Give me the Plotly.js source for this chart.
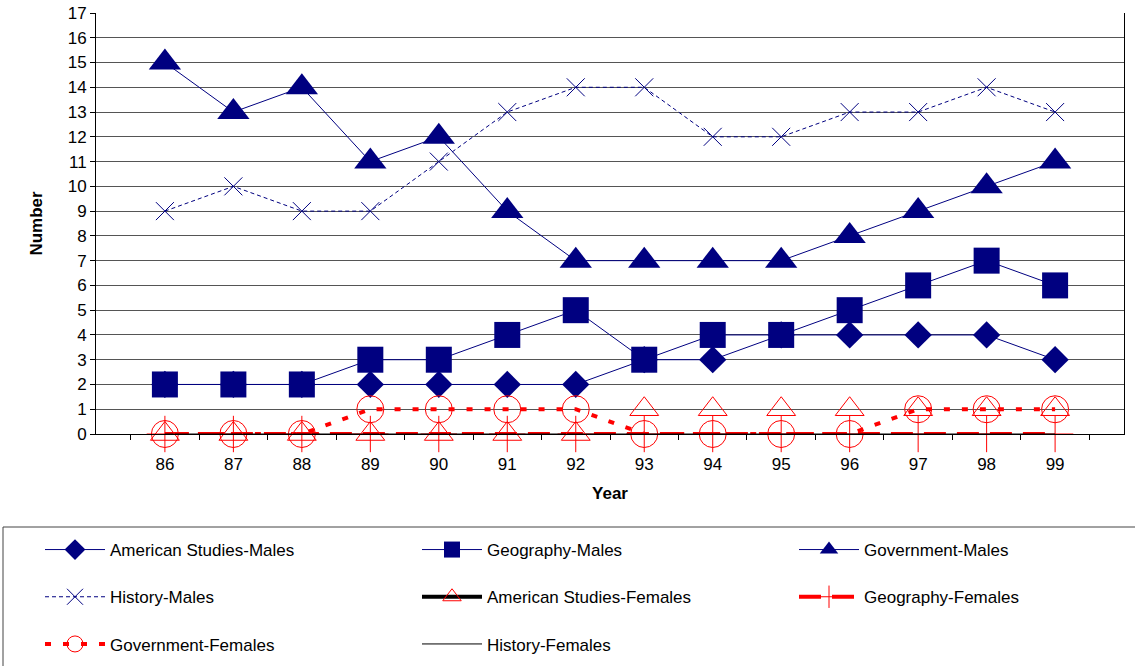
<!DOCTYPE html>
<html>
<head>
<meta charset="utf-8">
<script src="https://cdn.plot.ly/plotly-3.0.1.min.js"></script>
<style>html,body{margin:0;padding:0;background:#fff}</style>
</head>
<body>
<div id="chart" style="width:1135px;height:666px"></div>
<script>
var years = ['86','87','88','89','90','91','92','93','94','95','96','97','98','99'];
var amStudiesMales   = [2,2,2,2,2,2,2,3,3,4,4,4,4,3];
var geographyMales   = [2,2,2,3,3,4,5,3,4,4,5,6,7,6];
var governmentMales  = [15,13,14,11,12,9,7,7,7,7,8,9,10,11];
var historyMales     = [9,10,9,9,11,13,14,14,12,12,13,13,14,13];
var amStudiesFemales = [0,0,0,0,0,0,0,1,1,1,1,1,1,1];
var geographyFemales = [0,0,0,0,0,0,0,0,0,0,0,0,0,0];
var governmentFemales= [0,0,0,1,1,1,1,0,0,0,0,1,1,1];
var historyFemales   = [0,0,0,0,0,0,0,0,0,0,0,0,0,0];

var NAVY = '#000080', RED = '#ff0000';
function lab(s){ return s + '<br> '; }

var traces = [
  {name: lab('American Studies-Males'), legend: 'legend', x: years, y: amStudiesMales, mode: 'lines+markers',
   line: {color: NAVY, width: 1}, marker: {symbol: 'diamond', size: 21, color: NAVY}},
  {name: lab('Geography-Males'), legend: 'legend2', x: years, y: geographyMales, mode: 'lines+markers',
   line: {color: NAVY, width: 1}, marker: {symbol: 'square', size: 26, color: NAVY}},
  {name: lab('Government-Males'), legend: 'legend3', x: years, y: governmentMales, mode: 'lines+markers',
   line: {color: NAVY, width: 1}, marker: {symbol: 'triangle-up', size: 28, color: NAVY}},
  {name: lab('History-Males'), legend: 'legend', x: years, y: historyMales, mode: 'lines+markers',
   line: {color: NAVY, width: 1, dash: '4px,3px'}, marker: {symbol: 'x-thin-open', size: 18, color: NAVY, line: {color: NAVY, width: 1}}},
  // legend entry for American Studies-Females (its line is not visible in the plot)
  {name: lab('American Studies-Females'), legend: 'legend2', x: [null], y: [null], mode: 'lines+markers',
   line: {color: '#000000', width: 4}, marker: {symbol: 'triangle-up-open', size: 24, color: RED, line: {color: RED, width: 1}}},
  {name: lab('Geography-Females'), legend: 'legend3', x: years, y: geographyFemales, mode: 'lines+markers',
   line: {color: RED, width: 4, dash: '22px,11px'}, marker: {symbol: 'cross-thin-open', size: 26, color: RED, line: {color: RED, width: 1}}},
  {name: lab('Government-Females'), legend: 'legend', x: years, y: governmentFemales, mode: 'lines+markers',
   line: {color: RED, width: 4, dash: '6px,12px'}, marker: {symbol: 'circle-open', size: 27, color: RED, line: {color: RED, width: 1}}},
  {name: lab('History-Females'), legend: 'legend2', x: years, y: historyFemales, mode: 'lines',
   line: {color: '#000000', width: 1}},
  {name: 'American Studies-Females', legend: 'legend2', x: years, y: amStudiesFemales, mode: 'markers', showlegend: false,
   marker: {symbol: 'triangle-up-open', size: 25, color: RED, line: {color: RED, width: 1}}}
];
traces.forEach(function(t){ t.cliponaxis = false; });

var W = 1135, H = 666;
var L = 96, R = 1124, T = 13, B = 434;
function px(x){ return (x - L) / (R - L); }
function py(y){ return (B - y) / (B - T); }

function legendAt(xPix){
  return {
    orientation: 'h', xref: 'container', yref: 'container',
    x: xPix / W, y: 1 - 532 / H, xanchor: 'left', yanchor: 'top',
    bgcolor: 'rgba(0,0,0,0)', borderwidth: 0,
    font: {size: 17}, itemwidth: 60, entrywidth: 600, entrywidthmode: 'pixels',
    valign: 'top', traceorder: 'normal'
  };
}

var layout = {
  width: W, height: H,
  margin: {l: L, r: W - R, t: T, b: H - B},
  paper_bgcolor: '#ffffff', plot_bgcolor: '#ffffff',
  font: {family: 'Liberation Sans, Arial, sans-serif', size: 17, color: '#000'},
  showlegend: true,
  xaxis: {
    type: 'category', tickson: 'boundaries', ticks: 'outside', ticklen: 5, tickcolor: '#000',
    showline: true, linecolor: '#000', linewidth: 1, showgrid: false, zeroline: false,
    tickfont: {size: 17}, ticklabelstandoff: 15,
    title: {text: '<b>Year</b>', font: {size: 17}, standoff: 13}
  },
  yaxis: {
    range: [0, 17], dtick: 1, ticks: 'outside', ticklen: 5, tickcolor: '#000',
    showline: true, linecolor: '#000', linewidth: 1, mirror: true,
    showgrid: true, gridcolor: '#555', gridwidth: 1, zeroline: false,
    tickfont: {size: 17},
    title: {text: '<b>Number</b>', font: {size: 17}, standoff: 20}
  },
  legend: legendAt(40),
  legend2: legendAt(417),
  legend3: legendAt(794),
  shapes: [
    {type: 'rect', xref: 'paper', yref: 'paper', x0: px(3), x1: px(1140), y0: py(527), y1: py(672),
     line: {color: '#444', width: 1}, fillcolor: 'rgba(0,0,0,0)', layer: 'below'}
  ]
};

Plotly.newPlot('chart', traces, layout, {displayModeBar: false, staticPlot: true});
</script>
</body>
</html>
